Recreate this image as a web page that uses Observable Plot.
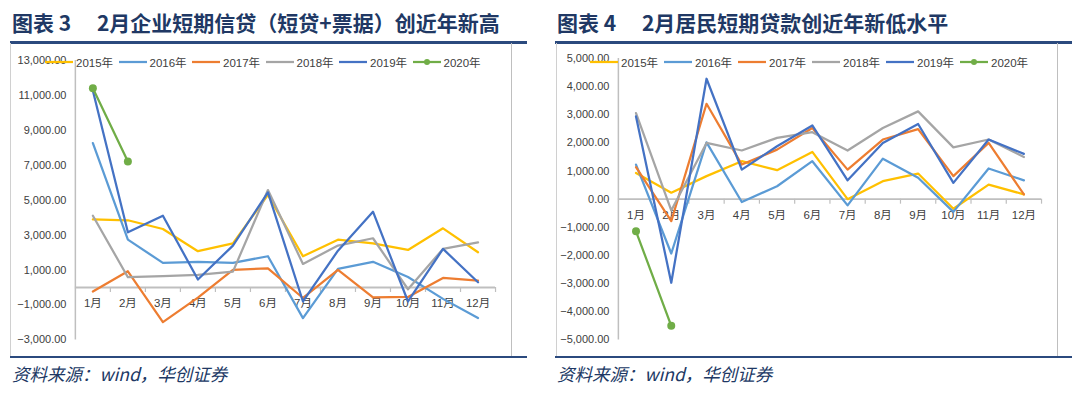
<!DOCTYPE html>
<html>
<head>
<meta charset="utf-8">
<script src="https://cdn.jsdelivr.net/npm/d3@7"></script>
<script src="https://cdn.jsdelivr.net/npm/@observablehq/plot@0.6"></script>
<style>
  html, body { margin: 0; padding: 0; background: #fff; }
  #page { position: relative; width: 1080px; height: 393px; overflow: hidden; background: #fff; font-family: "Liberation Sans", "Noto Sans CJK SC", sans-serif; }
  .title { position: absolute; top: 8px; font-family: "Noto Sans CJK SC", sans-serif; font-weight: 700; font-size: 21px; letter-spacing: 0; color: #203864; white-space: pre; line-height: 28px; }
  .rule-top { position: absolute; top: 41px; height: 2.5px; background: #2b4a7e; }
  .rule-bot { position: absolute; top: 356px; height: 2px; background: #2b4a7e; }
  .box { position: absolute; top: 43px; height: 313px; border-left: 1px solid #d0d0d0; border-right: 1.5px solid #bfbfbf; box-sizing: border-box; }
  .box svg { position: absolute; left: 0; top: 0; }
  .source { position: absolute; top: 362px; font-family: "Noto Sans CJK SC", sans-serif; font-style: italic; font-size: 17.5px; color: #203864; white-space: pre; line-height: 24px; }
  .legend { position: absolute; top: 54px; height: 16px; }
  .legend .item { position: absolute; top: 0; height: 16px; display: flex; align-items: center; font-size: 11.5px; color: #404040; white-space: nowrap; }
  .legend svg { margin-right: 3px; }
</style>
</head>
<body>
<div id="page"></div>
<script>
// ---- data ----
const months = ["1月","2月","3月","4月","5月","6月","7月","8月","9月","10月","11月","12月"];
const years = ["2015年","2016年","2017年","2018年","2019年","2020年"];
const colors = ["#FFC000","#5B9BD5","#ED7D31","#A5A5A5","#4472C4","#70AD47"];

// 图表3: 企业短期信贷（短贷+票据）
const corp2015 = [3900, 3850, 3350, 2080, 2530, 5300, 1790, 2740, 2530, 2150, 3390, 2020];
const corp2016 = [8270, 2740, 1410, 1470, 1410, 1790, -1750, 1070, 1470, 600, -650, -1750];
const corp2017 = [-230, 930, -1980, -580, 1010, 1100, -600, 1010, -570, -540, 550, 400];
const corp2018 = [4110, 590, 650, 720, 910, 5580, 1350, 2400, 2820, -100, 2210, 2590];
const corp2019 = [11260, 3160, 4110, 460, 2400, 5450, -800, 2110, 4340, -800, 2210, 300];
const corp2020 = [11410, 7220];
const corpTicks = [-3000, -1000, 1000, 3000, 5000, 7000, 9000, 11000, 13000];

// 图表4: 居民短期贷款
const res2015 = [930, 230, 820, 1350, 1030, 1680, 0, 640, 910, -340, 520, 170];
const res2016 = [1230, -1930, 2020, -100, 460, 1350, -220, 1440, 760, -450, 1090, 670];
const res2017 = [1140, -780, 3390, 1230, 1760, 2530, 1050, 2120, 2490, 820, 2000, 170];
const res2018 = [3060, -400, 2000, 1730, 2180, 2380, 1730, 2530, 3120, 1840, 2120, 1500];
const res2019 = [2940, -2970, 4280, 1050, 1880, 2620, 670, 2000, 2670, 580, 2120, 1610];
const res2020 = [-1140, -4500];
const resTicks = [-5000, -4000, -3000, -2000, -1000, 0, 1000, 2000, 3000, 4000, 5000];

const fmt = d3.format(",.2f");

function rowsOf(seriesList) {
  const rows = [];
  seriesList.forEach((vals, k) => vals.forEach((v, i) => rows.push({m: i + 1, v, year: years[k]})));
  return rows;
}

function chart({series, yDomain, yTicks, width, marginLeft, marginTop, marginBottom}) {
  const rows = rowsOf(series);
  const last = rows.filter(d => d.year === years[5]);
  const boundaries = d3.range(1.5, 13, 1);
  return Plot.plot({
    width, height: 313,
    marginLeft, marginRight: 15, marginTop, marginBottom,
    style: {fontFamily: '"Liberation Sans", "Noto Sans CJK SC", sans-serif', fontSize: "11px", color: "#404040", background: "transparent", overflow: "visible"},
    x: {domain: [0.5, 12.5], axis: null},
    y: {domain: yDomain, ticks: yTicks, tickFormat: fmt, tickSize: 0, tickPadding: 9, label: null},
    color: {domain: years, range: colors},
    marks: [
      Plot.ruleX([0.5], {stroke: "#bfbfbf", strokeWidth: 1.5}),
      Plot.ruleY([0], {stroke: "#bfbfbf", strokeWidth: 1.8}),
      Plot.ruleX(boundaries, {x: d => d, y1: 0, y2: 0, insetBottom: -5, stroke: "#bfbfbf", strokeWidth: 1.2}),
      Plot.text(months, {x: (d, i) => i + 1, y: 0, text: d => d, dy: 16, fill: "#404040", fontSize: 11.5}),
      Plot.line(rows, {x: "m", y: "v", z: "year", stroke: "year", strokeWidth: 2.25}),
      Plot.dot(last, {x: "m", y: "v", fill: "year", r: 4})
    ]
  });
}

function legend(left, pitch) {
  const lg = document.createElement("div");
  lg.className = "legend";
  lg.style.left = left + "px";
  years.forEach((y, i) => {
    const it = document.createElement("div");
    it.className = "item";
    it.style.left = (i * pitch) + "px";
    const dot = i === 5 ? `<circle cx="14" cy="5" r="3" fill="${colors[i]}"/>` : "";
    it.innerHTML = `<svg width="28" height="10"><line x1="0" x2="28" y1="5" y2="5" stroke="${colors[i]}" stroke-width="2.25"/>${dot}</svg><span>${y}</span>`;
    lg.appendChild(it);
  });
  return lg;
}

function panel({left, boxLeft, boxWidth, ruleWidth, title, legendLeft, legendPitch, plot}) {
  const page = document.getElementById("page");
  const t = document.createElement("div"); t.className = "title"; t.style.left = (left + 2) + "px"; t.textContent = title; page.appendChild(t);
  const r1 = document.createElement("div"); r1.className = "rule-top"; r1.style.left = left + "px"; r1.style.width = ruleWidth + "px"; page.appendChild(r1);
  const box = document.createElement("div"); box.className = "box"; box.style.left = boxLeft + "px"; box.style.width = boxWidth + "px"; page.appendChild(box);
  box.appendChild(plot);
  plot.style.left = "-1px";
  page.appendChild(legend(legendLeft, legendPitch));
  const r2 = document.createElement("div"); r2.className = "rule-bot"; r2.style.left = left + "px"; r2.style.width = ruleWidth + "px"; page.appendChild(r2);
  const s = document.createElement("div"); s.className = "source"; s.style.left = (left + 2) + "px"; s.textContent = "资料来源：wind，华创证券"; page.appendChild(s);
}

panel({
  left: 10, boxLeft: 10, boxWidth: 502, ruleWidth: 517,
  title: "图表 3\u2002\u2002 2月企业短期信贷（短贷+票据）创近年新高",
  legendLeft: 45, legendPitch: 73.5,
  plot: chart({series: [corp2015, corp2016, corp2017, corp2018, corp2019, corp2020], yDomain: [-3000, 13000], yTicks: corpTicks, width: 501, marginLeft: 65, marginTop: 17, marginBottom: 16})
});

panel({
  left: 555, boxLeft: 556, boxWidth: 502, ruleWidth: 517,
  title: "图表 4\u2002\u2002 2月居民短期贷款创近年新低水平",
  legendLeft: 590, legendPitch: 74,
  plot: chart({series: [res2015, res2016, res2017, res2018, res2019, res2020], yDomain: [-5000, 5000], yTicks: resTicks, width: 501, marginLeft: 62, marginTop: 15, marginBottom: 16})
});
</script>
</body>
</html>
